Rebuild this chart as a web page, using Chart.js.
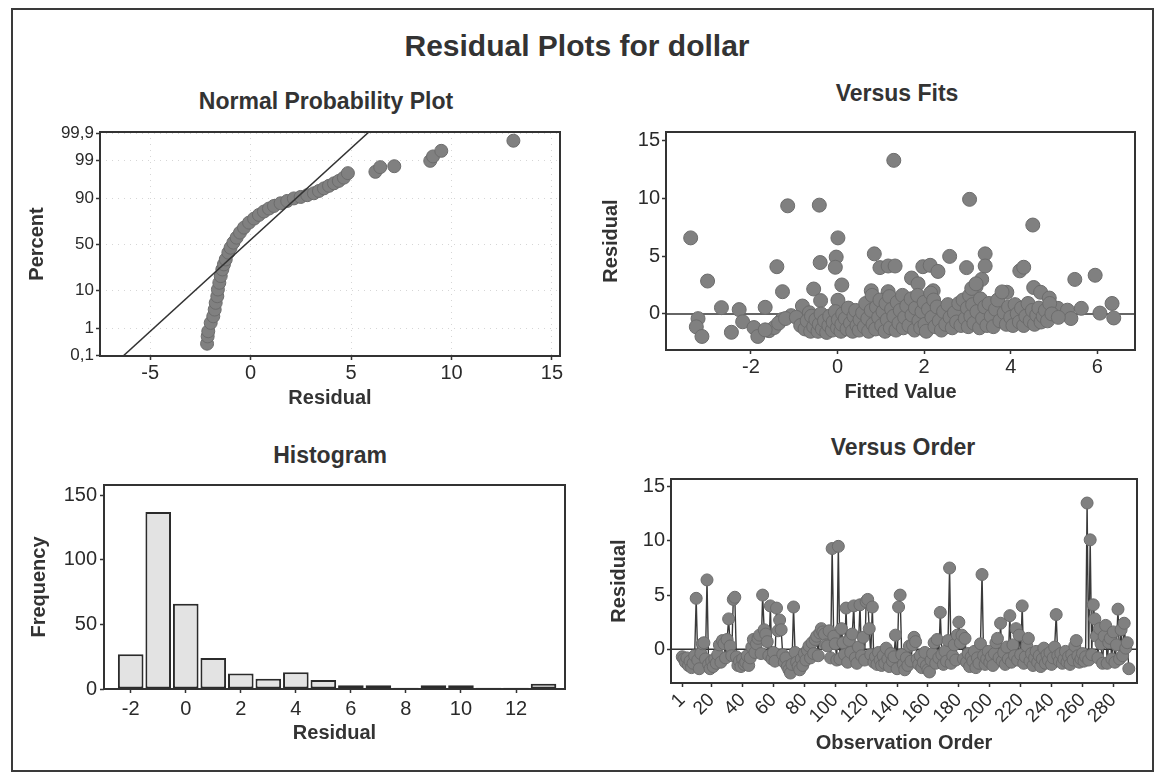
<!DOCTYPE html>
<html>
<head>
<meta charset="utf-8">
<script src="https://cdn.jsdelivr.net/npm/chart.js@4.4.1/dist/chart.umd.min.js"></script>
<style>
  body { margin: 0; background: #fff; width: 1157px; height: 774px; position: relative; overflow: hidden;
         font-family: "Liberation Sans", Arial, sans-serif; color: #333; }
  #cadre { position: absolute; left: 11px; top: 8px; width: 1139px; height: 760px; border: 2px solid #3a3a3a; }
  .titulo { position: absolute; transform: translate(-50%, -50%); font-weight: bold; white-space: nowrap; color: #333; }
  canvas { position: absolute; }
</style>
</head>
<body>
<div id="cadre"></div>
<div class="titulo" style="left:577px; top:46px; font-size:30px">Residual Plots for dollar</div>
<div class="titulo" style="left:326px; top:101px; font-size:23px">Normal Probability Plot</div>
<div class="titulo" style="left:897px; top:93px; font-size:23px">Versus Fits</div>
<div class="titulo" style="left:330px; top:455px; font-size:23px">Histogram</div>
<div class="titulo" style="left:903px; top:447px; font-size:23px">Versus Order</div>

<canvas id="npp" width="566" height="300" style="left:14px; top:118px"></canvas>
<canvas id="fits" width="565" height="295" style="left:585px; top:118px"></canvas>
<canvas id="hist" width="566" height="295" style="left:14px; top:470px"></canvas>
<canvas id="order" width="565" height="300" style="left:585px; top:465px"></canvas>

<script>
// ---- normal probability plot (residual, percent) ----
const nppResidual = [-2.17, -2.14, -2.11, -1.99, -1.86, -1.79, -1.74, -1.66, -1.63, -1.56,
  -1.49, -1.41, -1.33, -1.24, -1.11, -1.00, -0.86, -0.70, -0.53, -0.33,
  -0.08, 0.17, 0.41, 0.66, 0.91, 1.16, 1.49, 1.82, 2.15, 2.49,
  2.82, 3.15, 3.40, 3.65, 3.90, 4.15, 4.39, 4.64, 4.84,
  6.21, 6.45, 7.15, 8.94, 9.08, 9.49, 13.08];
const nppPercent = [0.29, 0.53, 0.79, 1.46, 2.29, 3.51, 5.22, 7.49, 10.5, 14.3,
  18.9, 24.3, 28.9, 33.8, 40.9, 46.3, 51.9, 57.4, 62.8, 67.9,
  72.7, 76.3, 79.3, 81.9, 84.0, 85.7, 87.3, 88.6, 89.9, 90.6,
  91.4, 92.2, 93.1, 94.0, 94.8, 95.5, 96.1, 96.8, 97.6,
  97.8, 98.4, 98.5, 98.98, 99.27, 99.53, 99.80];
const nppLineResidual = [-7.21, 6.71];
const nppLinePercent = [0.02, 99.98];
const nppPercentTicks = [0.1, 1, 10, 50, 90, 99, 99.9];
const nppPercentLabels = ["0,1", "1", "10", "50", "90", "99", "99,9"];
const nppResidualTicks = [-5, 0, 5, 10, 15];

// ---- versus fits [fitted, residual] ----
const fitsPoints = [
  [-3.39, 6.57], [-3.0, 2.84], [-3.22, -0.41], [-3.26, -1.12], [-3.13, -1.95], [-2.68, 0.54], [-2.45, -1.59],
  [-2.27, 0.37], [-2.19, -0.68], [-1.93, -1.18], [-1.84, -1.95], [-1.67, 0.57], [-1.58, -1.45], [-1.46, -1.18],
  [-1.4, 4.08], [-1.27, 1.92], [-1.28, -0.49], [-1.15, 9.34], [-1.07, -0.15], [-0.81, 0.68], [-0.78, -1.04],
  [-0.55, 2.15], [-0.42, 9.4], [-0.4, 4.44], [-0.39, 1.15], [0.01, 6.57], [-0.03, 4.91], [-0.05, 4.03],
  [0.1, 2.5], [0.01, 1.18], [0.85, 5.19], [0.98, 4.0], [1.17, 4.14], [1.33, 4.14], [1.3, 13.27], [0.78, 2.0],
  [1.17, 1.92], [1.71, 3.1], [1.86, 2.6], [1.97, 4.08], [2.14, 4.2], [2.32, 3.67], [2.21, 2.0], [2.59, 4.97],
  [3.05, 9.9], [2.98, 4.0], [3.41, 5.19], [3.41, 4.14], [3.33, 2.98], [3.2, 2.37], [3.91, 1.87], [4.21, 3.72],
  [4.3, 4.03], [4.51, 7.68], [4.53, 2.28], [4.69, 1.87], [4.89, 1.37], [5.09, 0.48], [5.31, 0.32], [5.39, -0.4],
  [5.48, 2.98], [5.63, 0.48], [5.95, 3.34], [6.06, 0.07], [6.34, 0.9], [6.38, -0.35],
  [-1.67, -1.38], [-1.36, -0.8], [-1.2, -0.4], [-0.95, -0.3], [-0.65, 0.1],
  [-0.85, -1.0], [-0.75, -1.3], [-0.7, -0.6], [-0.62, -1.5], [-0.6, -0.2], [-0.55, -1.1], [-0.5, -0.5],
  [-0.45, -1.5], [-0.42, -0.9], [-0.38, 0.0], [-0.35, -1.3], [-0.3, -0.6], [-0.25, -1.6], [-0.2, -1.0],
  [-0.18, -0.2], [-0.12, -1.4], [-0.1, -0.7], [-0.05, 0.2], [0.0, -1.2], [0.02, -0.5],
  [0.08, -1.5], [0.1, -0.9], [0.12, 0.0], [0.18, -0.4], [0.22, -1.3], [0.25, 0.5], [0.3, -0.8], [0.35, -1.5],
  [0.38, -0.2], [0.42, 0.3], [0.45, -1.0], [0.5, -1.4], [0.52, -0.5], [0.58, 0.1], [0.62, -1.1], [0.65, 0.9],
  [0.7, -0.4], [0.72, -1.5], [0.78, 0.3], [0.8, 1.6], [0.82, -0.9], [0.88, -1.3], [0.9, 0.6], [0.95, -0.3], [0.98, 1.2],
  [1.02, -1.0], [1.05, 0.2], [1.1, -1.5], [1.12, 0.9], [1.15, -0.5], [1.2, 1.5], [1.22, -1.2], [1.25, 0.4],
  [1.3, -0.2], [1.35, -1.4], [1.38, 1.0], [1.42, -0.8], [1.45, 0.3], [1.5, 1.6], [1.52, -1.2], [1.55, -0.3],
  [1.6, 0.7], [1.65, -1.0], [1.7, 1.3], [1.72, -0.1], [1.78, -1.4], [1.8, 0.5], [1.85, 1.6], [1.88, -0.6],
  [1.92, -1.2], [1.95, 0.2], [2.0, 1.0],
  [2.02, -0.9], [2.05, -1.5], [2.1, 0.4], [2.15, 1.8], [2.18, -0.3], [2.22, 1.2], [2.25, -1.1], [2.3, 0.6],
  [2.35, -0.6], [2.4, -1.4], [2.45, 0.2], [2.5, -0.9], [2.55, 0.8], [2.6, -0.3], [2.65, -1.2], [2.7, 0.1],
  [2.75, -0.7], [2.8, 0.9], [2.85, -1.0], [2.9, 1.2], [2.95, -0.4], [3.0, 0.5],
  [3.02, -1.1], [3.05, 1.6], [3.08, -0.2], [3.1, 2.2], [3.12, 0.8], [3.15, -0.8], [3.2, 2.6], [3.22, 0.2],
  [3.28, -1.2], [3.3, 1.3], [3.35, -0.4], [3.4, 0.6], [3.45, -1.0], [3.5, 0.9], [3.55, -0.2], [3.6, -1.1],
  [3.65, 0.4], [3.7, 1.2], [3.75, -0.6], [3.8, 1.9], [3.85, 0.1], [3.9, -0.9], [3.95, 0.6],
  [4.0, -0.3], [4.05, -1.0], [4.1, 0.8], [4.15, 0.0], [4.2, -0.7], [4.25, 0.5], [4.3, -1.0], [4.35, -0.2],
  [4.4, 0.9], [4.45, -0.6], [4.5, 0.3], [4.55, -0.9], [4.6, -0.1], [4.65, 0.5], [4.7, -0.7], [4.75, -0.2],
  [4.8, 0.3], [4.85, -0.6], [4.9, 0.9], [4.95, 0.0], [5.1, -0.3]
];
const fitsXTicks = [-2, 0, 2, 4, 6];
const residualTicks = [0, 5, 10, 15];

// ---- histogram ----
const histBins = [-2, -1, 0, 1, 2, 3, 4, 5, 6, 7, 8, 9, 10, 11, 12, 13];
const histCounts = [27, 137, 66, 24, 12, 8, 13, 7, 3, 3, 1, 3, 3, 1, 1, 4];
const histXTicks = [-2, 0, 2, 4, 6, 8, 10, 12];
const histYTicks = [0, 50, 100, 150];

// ---- versus order (observations 1..290) ----
const orderResidual = [
  -0.7, -0.9, -1.2, -0.8, -1.5, -1.1, -1.7, -1.3, -0.6, 4.7,
  -1.0, -1.8, -0.4, 0.5, 0.6, -0.9, 6.4, -1.4, -1.8, -1.1,
  -1.6, -0.9, -1.3, -0.5, 0.4, -1.2, 0.8, 0.5, -0.8, 0.9,
  2.8, 0.3, -0.6, 4.6, 4.8, -0.7, -1.5, -1.1, -1.6, -0.9,
  -1.4, -1.2, -0.6, -1.5, -0.8, 0.2, 0.9, -0.3, 0.5, 1.0,
  1.3, -0.4, 5.0, 1.8, 1.4, 0.7, -0.6, 4.0, -0.9, -0.3,
  -1.1, 3.8, 1.7, 2.7, 1.8, -0.5, -1.2, -0.8, -1.6, -1.9,
  -2.2, -1.4, 3.9, -0.3, -1.2, -1.6, -1.9, -0.9, -1.5, -0.4,
  -1.0, -0.1, 0.3, -0.8, 0.6, -0.4, 0.9, 1.2, -0.6, 1.5,
  1.9, 1.6, 1.4, 0.4, 0.3, 1.7, -0.8, 9.3, 1.2, 0.5,
  -1.0, 9.5, -0.9, 1.9, 0.6, -0.5, 3.8, -1.2, 0.8, -0.3,
  1.4, 4.0, -0.8, -1.3, 0.2, 4.1, -0.6, 1.1, -1.0, 4.4,
  4.6, 1.9, -0.5, 3.9, -1.2, -0.7, -1.4, -0.3, -1.0, -1.5,
  -0.6, -1.3, 0.1, -0.9, -1.6, -0.4, -1.1, -0.7, 1.3, -1.8,
  3.9, 5.0, -0.5, -1.4, -1.9, -0.8, -1.5, 0.3, -1.1, 0.4,
  1.1, 0.7, -0.9, -1.4, -0.6, -1.7, -1.2, -0.3, -1.5, -1.9,
  -2.1, -1.0, -0.4, 0.6, -1.3, 0.9, -0.8, 3.4, -0.5, -1.4,
  -0.2, -1.1, 0.8, 7.5, -1.3, -0.6, 0.4, -1.0, 1.3, 2.5,
  0.6, 1.3, -0.9, 1.0, -1.2, -0.4, -1.6, -0.7, -1.1, -0.2,
  -1.7, -0.8, -1.3, 0.5, 6.9, -0.6, -1.4, -0.9, -0.2, -1.2,
  -0.7, -1.5, -0.4, 0.6, 1.0, -0.8, 2.4, -1.1, -0.3, -1.4,
  0.2, -0.9, 3.1, -1.2, 0.4, -0.6, 1.9, -1.0, 1.3, -0.5,
  4.0, -1.3, -0.7, 0.3, 1.0, -1.1, -0.4, -1.5, -0.8, -0.2,
  -1.2, -0.6, -1.6, -0.9, 0.1, -1.3, -0.5, -1.0, -0.3, -1.4,
  -0.8, 0.2, 3.2, -0.6, -1.1, -0.4, -1.3, -0.9, -0.2, -1.2,
  -0.7, -1.4, -0.5, -1.0, 0.3, 0.8, -0.6, -1.2, -0.9, -0.4,
  -1.1, -0.7, 13.5, -1.0, 10.1, -0.5, 4.1, 2.8, 1.2, -0.8,
  1.9, 0.5, -1.3, 1.2, 2.2, -1.3, 0.6, 1.0, -0.9, 1.6,
  -1.2, 0.4, 3.7, -0.9, 1.8, -0.6, 2.4, 0.1, 0.6, -1.8
];
const orderTicks = [1, 20, 40, 60, 80, 100, 120, 140, 160, 180, 200, 220, 240, 260, 280];

// ------------------------------------------------------------
const FONTE = '"Liberation Sans", Arial, sans-serif';
Chart.defaults.font.family = FONTE;
Chart.defaults.color = "#2a2a2a";

const CINZA = "#808080";
const CINZA_BORDA = "#6c6c6c";
const ESCURO = "#333";

// inverse normal CDF (Acklam) - used as the probability axis transform
function probit(p) {
  const a = [-39.69683028665376, 220.9460984245205, -275.9285104469687, 138.3577518672690, -30.66479806614716, 2.506628277459239];
  const b = [-54.47609879822406, 161.5858368580409, -155.6989798598866, 66.80131188771972, -13.28068155288572];
  const c = [-0.007784894002430293, -0.3223964580411365, -2.400758277161838, -2.549732539343734, 4.374664141464968, 2.938163982698783];
  const d = [0.007784695709041462, 0.3224671290700398, 2.445134137142996, 3.754408661907416];
  const pl = 0.02425;
  if (p < pl) {
    const q = Math.sqrt(-2 * Math.log(p));
    return (((((c[0] * q + c[1]) * q + c[2]) * q + c[3]) * q + c[4]) * q + c[5]) / ((((d[0] * q + d[1]) * q + d[2]) * q + d[3]) * q + 1);
  }
  if (p > 1 - pl) {
    const q = Math.sqrt(-2 * Math.log(1 - p));
    return -(((((c[0] * q + c[1]) * q + c[2]) * q + c[3]) * q + c[4]) * q + c[5]) / ((((d[0] * q + d[1]) * q + d[2]) * q + d[3]) * q + 1);
  }
  const q = p - 0.5, r = q * q;
  return (((((a[0] * r + a[1]) * r + a[2]) * r + a[3]) * r + a[4]) * r + a[5]) * q / (((((b[0] * r + b[1]) * r + b[2]) * r + b[3]) * r + b[4]) * r + 1);
}

// frame around the plot area
const caixa = {
  id: "caixa",
  beforeDatasetsDraw(chart) {
    const { ctx, chartArea: a } = chart;
    ctx.save();
    ctx.strokeStyle = ESCURO;
    ctx.lineWidth = 2;
    ctx.strokeRect(a.left, a.top, a.right - a.left, a.bottom - a.top);
    ctx.restore();
  },
};

function eixo(pos, min, max, valores, titulo, cfg) {
  const vertical = pos === "left";
  return {
    type: "linear", position: pos, min: min, max: max, offset: false,
    afterBuildTicks: (s) => { s.ticks = valores.map((v) => ({ value: v })); },
    afterFit: (s) => { if (vertical) s.width = cfg.tamanho; else s.height = cfg.tamanho; },
    grid: {
      drawOnChartArea: !!cfg.grelha, offset: false,
      color: cfg.grelha ? "rgba(0,0,0,0.16)" : ESCURO,
      tickColor: ESCURO, tickLength: 4, tickWidth: 1.5, lineWidth: 1,
    },
    border: { display: false, dash: cfg.grelha ? [1, 5] : [] },
    ticks: {
      autoSkip: false, color: "#2a2a2a",
      font: { size: cfg.fonte || 20 },
      padding: cfg.pad,
      minRotation: cfg.rot || 0, maxRotation: cfg.rot || 0,
      callback: cfg.rotulos ? (v, i) => cfg.rotulos[i] : (v) => String(v),
    },
    title: {
      display: true, text: titulo, color: ESCURO,
      font: { size: 20, weight: "bold" },
      padding: vertical ? { top: cfg.tp, bottom: 0 } : { top: 0, bottom: cfg.tp },
    },
  };
}

function opcoesBase(padTop, padRight, escalas) {
  return {
    responsive: false, animation: false, events: [], devicePixelRatio: 1,
    layout: { padding: { top: padTop, right: padRight, left: 0, bottom: 0 } },
    plugins: { legend: { display: false }, tooltip: { enabled: false } },
    scales: escalas,
  };
}

const estiloPontos = {
  pointRadius: 7, pointBackgroundColor: CINZA, pointBorderColor: CINZA_BORDA, pointBorderWidth: 1,
};

// Normal probability plot
new Chart(document.getElementById("npp"), {
  type: "scatter",
  data: {
    datasets: [
      {
        data: nppLineResidual.map((r, i) => ({ x: r, y: probit(nppLinePercent[i] / 100) })),
        showLine: true, pointRadius: 0, borderColor: ESCURO, borderWidth: 1.5,
      },
      Object.assign({
        data: nppResidual.map((r, i) => ({ x: r, y: probit(nppPercent[i] / 100) })),
      }, estiloPontos, { pointRadius: 6.5 }),
    ],
  },
  options: opcoesBase(14, 20, {
    x: eixo("bottom", -7.5, 15.4, nppResidualTicks, "Residual", { tamanho: 62, pad: 1, tp: 8, grelha: true }),
    y: eixo("left", probit(0.001) - 0.01, probit(0.999) + 0.03, nppPercentTicks.map((p) => probit(p / 100)), "Percent",
      { tamanho: 86, pad: 2, tp: 11, grelha: true, rotulos: nppPercentLabels, fonte: 17 }),
  }),
  plugins: [caixa],
});

// Versus fits
new Chart(document.getElementById("fits"), {
  type: "scatter",
  data: {
    datasets: [
      Object.assign({ data: fitsPoints.map((p) => ({ x: p[0], y: p[1] })) }, estiloPontos),
      {
        data: [{ x: -3.96, y: 0 }, { x: 6.87, y: 0 }],
        showLine: true, pointRadius: 0, borderColor: ESCURO, borderWidth: 1.5,
      },
    ],
  },
  options: opcoesBase(5, 15, {
    x: eixo("bottom", -3.96, 6.87, fitsXTicks, "Fitted Value", { tamanho: 63, pad: 1, tp: 9 }),
    y: eixo("left", -3.12, 15.72, residualTicks, "Residual", { tamanho: 81, pad: 2, tp: 14 }),
  }),
  plugins: [caixa],
});

// Histogram
new Chart(document.getElementById("hist"), {
  type: "bar",
  data: {
    datasets: [{
      data: histBins.map((b, i) => ({ x: b, y: histCounts[i] })),
      backgroundColor: "#e3e3e3", borderColor: "#2b2b2b", borderWidth: 2,
      barPercentage: 0.93, categoryPercentage: 1, borderSkipped: false,
    }],
  },
  options: opcoesBase(12, 15, {
    x: eixo("bottom", -2.97, 13.78, histXTicks, "Residual", { tamanho: 76, pad: 4, tp: 20 }),
    y: eixo("left", 0, 158, histYTicks, "Frequency", { tamanho: 90, pad: 3, tp: 13 }),
  }),
  plugins: [caixa],
});

// Versus order
new Chart(document.getElementById("order"), {
  type: "scatter",
  data: {
    datasets: [
      Object.assign({
        data: orderResidual.map((r, i) => ({ x: i + 1, y: r })),
        showLine: true, borderColor: "#3a3a3a", borderWidth: 1.4,
      }, estiloPontos, { pointRadius: 6 }),
      {
        data: [{ x: -6.3, y: 0 }, { x: 295.3, y: 0 }],
        showLine: true, pointRadius: 0, borderColor: ESCURO, borderWidth: 1.5,
      },
    ],
  },
  options: opcoesBase(11, 13, {
    x: eixo("bottom", -6.3, 295.3, orderTicks, "Observation Order", { tamanho: 82, pad: 2, tp: 10, rot: 45, fonte: 19 }),
    y: eixo("left", -3.12, 15.72, residualTicks, "Residual", { tamanho: 86, pad: 2, tp: 22 }),
  }),
  plugins: [caixa],
});
</script>
</body>
</html>
